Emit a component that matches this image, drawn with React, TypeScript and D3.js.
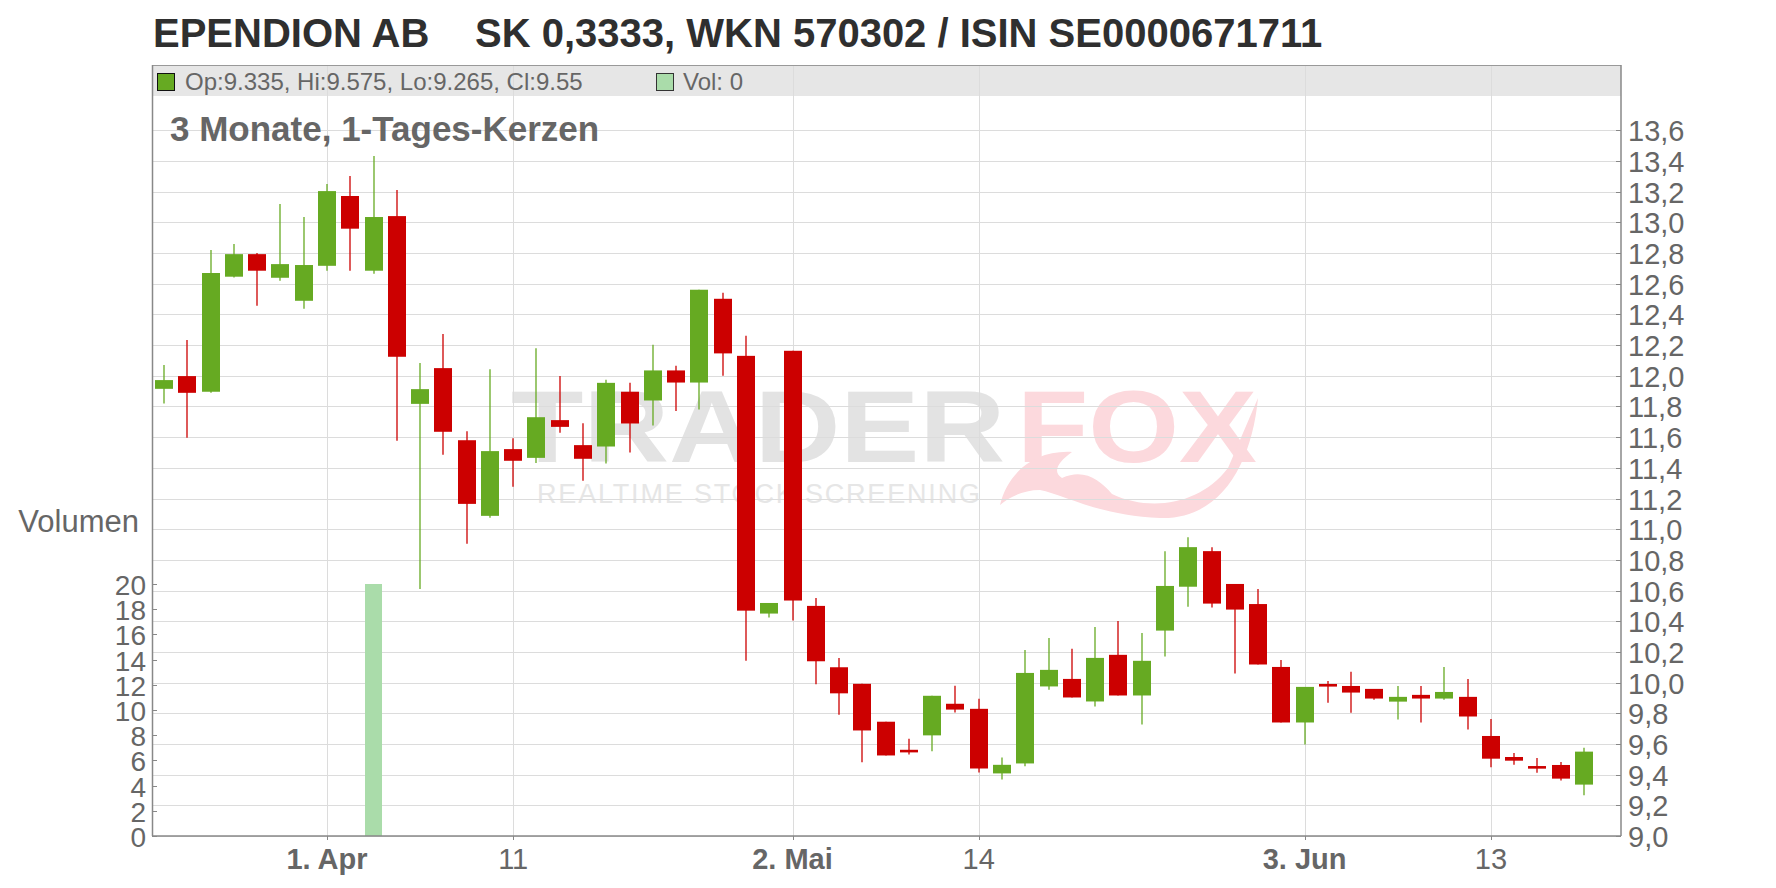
import React from 'react';
import * as d3 from 'd3';

// ---- data ----
const open = [11.915, 11.998, 11.896, 12.646, 12.793, 12.639, 12.489, 12.717, 13.172, 12.685,
  13.041, 11.817, 12.05, 11.58, 11.087, 11.522, 11.465, 11.711, 11.548, 11.539,
  11.896, 11.839, 12.035, 11.956, 12.502, 12.13, 10.45, 12.163, 10.5, 10.1,
  9.992, 9.745, 9.562, 9.656, 9.862, 9.829, 9.408, 9.473, 9.975, 10.024,
  9.877, 10.181, 9.916, 10.339, 10.625, 10.857, 10.643, 10.512, 10.102, 9.74,
  9.991, 9.978, 9.959, 9.876, 9.92, 9.896, 9.907, 9.652, 9.515, 9.456,
  9.463, 9.335];
const high = [12.07, 12.233, 12.82, 12.859, 12.8, 13.12, 13.035, 13.25, 13.302, 13.433,
  13.211, 12.083, 12.272, 11.639, 12.043, 11.593, 12.18, 11.998, 11.691, 11.974,
  11.954, 12.202, 12.066, 12.561, 12.541, 12.261, 10.519, 12.163, 10.552, 10.16,
  9.992, 9.745, 9.634, 9.914, 9.979, 9.894, 9.512, 10.213, 10.29, 10.22,
  10.363, 10.402, 10.324, 10.857, 10.948, 10.883, 10.643, 10.61, 10.148, 9.972,
  10.011, 10.07, 9.959, 9.978, 9.978, 10.102, 10.024, 9.763, 9.541, 9.509,
  9.483, 9.575];
const low = [11.82, 11.596, 11.89, 12.64, 12.456, 12.62, 12.437, 12.685, 12.685, 12.665,
  11.576, 10.61, 11.485, 10.905, 11.074, 11.276, 11.432, 11.628, 11.315, 11.428,
  11.5, 11.676, 11.77, 11.78, 12.0, 10.143, 10.425, 10.404, 9.99, 9.79,
  9.48, 9.525, 9.532, 9.552, 9.805, 9.414, 9.369, 9.454, 9.953, 9.903,
  9.844, 9.916, 9.727, 10.17, 10.495, 10.489, 10.059, 10.118, 9.74, 9.596,
  9.869, 9.804, 9.889, 9.759, 9.74, 9.889, 9.694, 9.448, 9.465, 9.413,
  9.361, 9.265];
const close = [11.972, 11.889, 12.67, 12.793, 12.685, 12.728, 12.722, 13.204, 12.959, 13.035,
  12.124, 11.913, 11.635, 11.165, 11.509, 11.446, 11.73, 11.667, 11.459, 11.954,
  11.689, 12.035, 11.956, 12.561, 12.146, 10.469, 10.519, 10.535, 10.139, 9.93,
  9.688, 9.525, 9.545, 9.914, 9.824, 9.44, 9.464, 10.063, 10.083, 9.903,
  10.161, 9.916, 10.142, 10.63, 10.883, 10.515, 10.476, 10.118, 9.74, 9.972,
  9.974, 9.935, 9.896, 9.907, 9.896, 9.939, 9.779, 9.504, 9.491, 9.439,
  9.374, 9.55];
const volume = [0, 0, 0, 0, 0, 0, 0, 0, 0, 20,
  0, 0, 0, 0, 0, 0, 0, 0, 0, 0,
  0, 0, 0, 0, 0, 0, 0, 0, 0, 0,
  0, 0, 0, 0, 0, 0, 0, 0, 0, 0,
  0, 0, 0, 0, 0, 0, 0, 0, 0, 0,
  0, 0, 0, 0, 0, 0, 0, 0, 0, 0,
  0, 0];

const xTickIndex = [7, 15, 27, 35, 49, 57];
const xTickLabels = ['1. Apr', '11', '2. Mai', '14', '3. Jun', '13'];
const xTickBold = [true, false, true, false, true, false];
const priceTicks = [9.0, 9.2, 9.4, 9.6, 9.8, 10.0, 10.2, 10.4, 10.6, 10.8, 11.0, 11.2,
  11.4, 11.6, 11.8, 12.0, 12.2, 12.4, 12.6, 12.8, 13.0, 13.2, 13.4, 13.6];
const volumeTicks = [0, 2, 4, 6, 8, 10, 12, 14, 16, 18, 20];

const titleName = 'EPENDION AB';
const titleRest = 'SK 0,3333, WKN 570302 / ISIN SE0000671711';
const subtitle = '3 Monate, 1-Tages-Kerzen';
const legendOHLC = 'Op:9.335, Hi:9.575, Lo:9.265, Cl:9.55';
const legendVol = 'Vol: 0';
const volumeTitle = 'Volumen';

// ---- layout ----
const W = 1776;
const H = 888;
const L = 152;
const R = 1621;
const T = 65;
const B = 836;
const FONT = '"Liberation Sans", Arial, Helvetica, sans-serif';
const UP = '#66aa22';
const DOWN = '#cc0000';
const VOLC = '#aadcaa';
const GRID = '#dcdcdc';
const AXIS = '#888888';
const LABEL = '#666666';

export default function App() {
  React.useEffect(() => {
    document.body.style.margin = '0';
    document.body.style.overflow = 'hidden';
  }, []);

  const x = d3.scaleLinear().domain([0, open.length - 1]).range([164, 1584]);
  const y = d3.scaleLinear().domain([9, 14.026]).range([B, T]);
  const yv = d3.scaleLinear().domain([0, 20]).range([B, 584]);
  const fmt = (v: number) => d3.format('.1f')(v).replace('.', ',');
  const bodyW = 18;

  return (
    <svg width={W} height={H} style={{ position: 'absolute', left: 0, top: 0, background: '#fff' }} fontFamily={FONT}>
      <rect x={0} y={0} width={W} height={H} fill="#ffffff" />

      {/* title */}
      <text y={46.5} fontSize={40} fontWeight="bold" fill="#2f2f2f">
        <tspan x={153}>{titleName}</tspan>
        <tspan x={475}>{titleRest}</tspan>
      </text>

      {/* watermark */}
      <g>
        <text x={511} y={462} fontSize={102} fontWeight="bold" fill="#e3e3e3" textLength={494} lengthAdjust="spacingAndGlyphs">TRADER</text>
        <text x={1017} y={462} fontSize={102} fontWeight="bold" fill="#fcd9dd" textLength={240} lengthAdjust="spacingAndGlyphs">FOX</text>
        <text x={537} y={503} fontSize={27} fill="#e6e6e6" textLength={443} lengthAdjust="spacing">REALTIME STOCK SCREENING</text>
        <path d="M 1000 505 C 1008 472, 1035 450, 1072 452 C 1058 462, 1052 472, 1062 478 C 1084 468, 1100 480, 1112 494 C 1150 512, 1200 505, 1228 468 L 1258 398 C 1252 462, 1222 520, 1160 518 C 1100 516, 1062 494, 1040 490 C 1022 490, 1008 498, 1000 505 Z" fill="#fcd9dd" />
      </g>

      {/* legend bar */}
      <rect x={L} y={T} width={R - L} height={31} fill="#e6e6e6" />

      {/* grid */}
      {xTickIndex.map((i) => (
        <line key={'vg' + i} x1={Math.round(x(i)) + 0.5} x2={Math.round(x(i)) + 0.5} y1={T} y2={B} stroke={GRID} strokeWidth={1} />
      ))}
      {priceTicks.map((p) => (
        <line key={'hg' + p} x1={L} x2={R} y1={Math.round(y(p)) + 0.5} y2={Math.round(y(p)) + 0.5} stroke={GRID} strokeWidth={1} />
      ))}

      {/* volume */}
      {volume.map((v, i) => v > 0 ? (
        <rect key={'v' + i} x={x(i) - 8.5} y={yv(v)} width={17} height={B - yv(v)} fill={VOLC} />
      ) : null)}

      {/* candles */}
      {open.map((o, i) => {
        const c = close[i];
        const col = c >= o ? UP : DOWN;
        const cx = Math.round(x(i));
        const top = y(Math.max(o, c));
        const bot = y(Math.min(o, c));
        return (
          <g key={'c' + i}>
            <line x1={cx} x2={cx} y1={y(high[i])} y2={y(low[i])} stroke={col} strokeWidth={1.3} />
            <rect x={cx - bodyW / 2} y={top} width={bodyW} height={Math.max(1.5, bot - top)} fill={col} />
          </g>
        );
      })}

      {/* plot border / axes */}
      <line x1={L} x2={R} y1={T + 0.5} y2={T + 0.5} stroke="#999" strokeWidth={1} />
      <line x1={L + 0.5} x2={L + 0.5} y1={T} y2={B} stroke={AXIS} strokeWidth={1.5} />
      <line x1={R} x2={R} y1={T} y2={B} stroke={AXIS} strokeWidth={1.5} />
      <line x1={L} x2={R} y1={B} y2={B} stroke={AXIS} strokeWidth={1.5} />

      {/* price axis */}
      {priceTicks.map((p) => (
        <g key={'pt' + p}>
          <line x1={R - 5} x2={R} y1={Math.round(y(p)) + 0.5} y2={Math.round(y(p)) + 0.5} stroke={AXIS} strokeWidth={1} />
          <text x={1628} y={y(p) + 11} fontSize={29} fill={LABEL}>{fmt(p)}</text>
        </g>
      ))}

      {/* volume axis */}
      {volumeTicks.map((v) => (
        <g key={'vt' + v}>
          <line x1={L} x2={L + 5} y1={Math.round(yv(v)) + 0.5} y2={Math.round(yv(v)) + 0.5} stroke={AXIS} strokeWidth={1} />
          <text x={146} y={yv(v) + 11} fontSize={28} fill={LABEL} textAnchor="end">{v}</text>
        </g>
      ))}
      <text x={139} y={531.5} fontSize={31} fill={LABEL} textAnchor="end">{volumeTitle}</text>

      {/* x axis */}
      {xTickIndex.map((i, k) => (
        <g key={'xt' + i}>
          <line x1={Math.round(x(i)) + 0.5} x2={Math.round(x(i)) + 0.5} y1={B} y2={B + 4} stroke={AXIS} strokeWidth={1} />
          <text x={x(i)} y={869} fontSize={29} fill={LABEL} textAnchor="middle" fontWeight={xTickBold[k] ? 'bold' : 'normal'}>{xTickLabels[k]}</text>
        </g>
      ))}

      {/* legend */}
      <rect x={157.5} y={73.5} width={17} height={17} fill={UP} stroke="#111" strokeWidth={1} />
      <text x={185} y={90} fontSize={24} fill={LABEL}>{legendOHLC}</text>
      <rect x={656.5} y={73.5} width={17} height={17} fill={VOLC} stroke="#333" strokeWidth={1} />
      <text x={683} y={90} fontSize={24} fill={LABEL}>{legendVol}</text>

      {/* subtitle */}
      <text x={170} y={141} fontSize={35} fontWeight="bold" fill={LABEL}>{subtitle}</text>
    </svg>
  );
}
